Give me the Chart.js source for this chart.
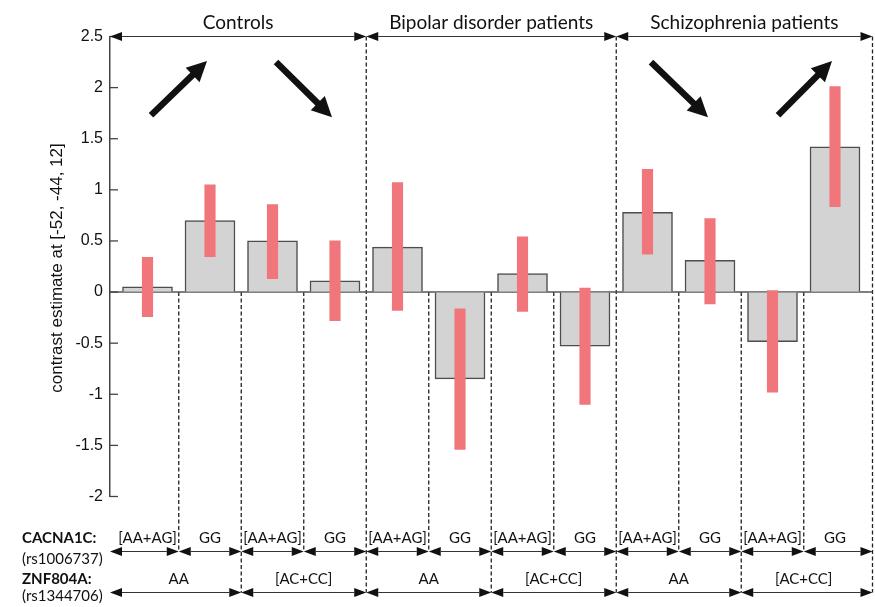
<!DOCTYPE html>
<html><head><meta charset="utf-8">
<script src="https://cdn.jsdelivr.net/npm/chart.js@4.4.0/dist/chart.umd.min.js"></script>
<style>html,body{margin:0;padding:0;background:#fff;}#wrap{width:875px;height:607px;position:relative;}</style>
</head><body><div id="wrap"><canvas id="c" width="875" height="607"></canvas></div>
<script>
// ---- data ----
const groups = ['Controls', 'Bipolar disorder patients', 'Schizophrenia patients'];
const cacna1c = ['[AA+AG]', 'GG', '[AA+AG]', 'GG', '[AA+AG]', 'GG', '[AA+AG]', 'GG', '[AA+AG]', 'GG', '[AA+AG]', 'GG'];
const znf804a = ['AA', '[AC+CC]', 'AA', '[AC+CC]', 'AA', '[AC+CC]'];
const contrast = [0.05, 0.70, 0.50, 0.11, 0.44, -0.85, 0.18, -0.53, 0.78, 0.31, -0.485, 1.42];
const ciLow  = [-0.24, 0.345, 0.13, -0.28, -0.18, -1.54, -0.19, -1.10, 0.37, -0.115, -0.98, 0.835];
const ciHigh = [0.34, 1.05, 0.855, 0.50, 1.07, -0.165, 0.54, 0.04, 1.20, 0.72, 0.015, 2.01];
const yTicks = [2.5, 2, 1.5, 1, 0.5, 0, -0.5, -1, -1.5, -2];
const yTitle = 'contrast estimate at [-52, -44, 12]';
// trend arrows in data space: [x1, y1, x2, y2]
const trendArrows = [[0.556, 1.73, 1.452, 2.26], [2.556, 2.25, 3.452, 1.71], [8.556, 2.25, 9.468, 1.71], [10.588, 1.73, 11.452, 2.26]];

const TXT = 'Lato, "Noto Sans", sans-serif';
const AX = '"Liberation Sans", Arial, sans-serif';

function tri(ctx, x, y, dir, L, H) {
  ctx.beginPath(); ctx.moveTo(x, y); ctx.lineTo(x + dir * L, y - H); ctx.lineTo(x + dir * L, y + H); ctx.closePath(); ctx.fill();
}
function dblArrow(ctx, x1, x2, y) {
  const L = 12, H = 4.6;
  ctx.save();
  ctx.strokeStyle = '#333'; ctx.fillStyle = '#111'; ctx.lineWidth = 1.2;
  ctx.beginPath(); ctx.moveTo(x1 + L, y); ctx.lineTo(x2 - L, y); ctx.stroke();
  tri(ctx, x1, y, 1, L, H); tri(ctx, x2, y, -1, L, H);
  ctx.restore();
}
function bigArrow(ctx, x1, y1, x2, y2) {
  const a = Math.atan2(y2 - y1, x2 - x1), c = Math.cos(a), s = Math.sin(a);
  const hl = 20, hw = 10;
  const bx = x2 - hl * c, by = y2 - hl * s;
  ctx.save();
  ctx.strokeStyle = '#111'; ctx.fillStyle = '#111'; ctx.lineWidth = 6.5; ctx.lineCap = 'butt';
  ctx.beginPath(); ctx.moveTo(x1, y1); ctx.lineTo(bx + 2 * c, by + 2 * s); ctx.stroke();
  ctx.beginPath(); ctx.moveTo(x2, y2); ctx.lineTo(bx - hw * s, by + hw * c); ctx.lineTo(bx + hw * s, by - hw * c); ctx.closePath(); ctx.fill();
  ctx.restore();
}

const decor = {
  id: 'decor',
  beforeDatasetsDraw(chart) {
    const ctx = chart.ctx, x = chart.scales.x, y = chart.scales.y, ca = chart.chartArea;
    const y0 = y.getPixelForValue(0);
    const b = ca.bottom;
    const row1 = b + 55, row2 = b + 96;
    ctx.save();
    ctx.strokeStyle = '#222'; ctx.lineWidth = 1.3; ctx.setLineDash([4, 2.5]);
    for (let i = 1; i <= 11; i++) {
      const px = x.getPixelForValue(i);
      let top = y0, bot = row1;
      if (i % 2 === 0) bot = row2;
      if (i % 4 === 0) top = ca.top;
      ctx.beginPath(); ctx.moveTo(px, top); ctx.lineTo(px, bot); ctx.stroke();
    }
    ctx.beginPath(); ctx.moveTo(ca.right, ca.top); ctx.lineTo(ca.right, row2); ctx.stroke();
    ctx.setLineDash([]);
    ctx.strokeStyle = '#555'; ctx.lineWidth = 1.5;
    ctx.beginPath(); ctx.moveTo(ca.left, y0); ctx.lineTo(ca.right, y0); ctx.stroke();
    ctx.restore();
  },
  afterDatasetsDraw(chart) {
    const ctx = chart.ctx, x = chart.scales.x, y = chart.scales.y, ca = chart.chartArea;
    ctx.save();
    // inward ticks
    ctx.strokeStyle = '#444'; ctx.lineWidth = 1.3;
    yTicks.forEach(v => {
      const py = y.getPixelForValue(v);
      ctx.beginPath(); ctx.moveTo(ca.left, py); ctx.lineTo(ca.left + 8, py); ctx.stroke();
    });
    // top group arrows and labels
    const gEdges = [ca.left, x.getPixelForValue(4), x.getPixelForValue(8), ca.right];
    ctx.textAlign = 'center'; ctx.textBaseline = 'middle';
    groups.forEach((g, i) => {
      dblArrow(ctx, gEdges[i], gEdges[i + 1], ca.top);
      ctx.fillStyle = '#111'; ctx.font = '19px ' + TXT; ctx.textAlign = 'center';
      ctx.fillText(g, (gEdges[i] + gEdges[i + 1]) / 2, ca.top - 14);
    });
    // trend arrows
    trendArrows.forEach(t => bigArrow(ctx, x.getPixelForValue(t[0]), y.getPixelForValue(t[1]), x.getPixelForValue(t[2]), y.getPixelForValue(t[3])));
    // bottom annotations
    const b = ca.bottom;
    const catEdge = i => (i === 0 ? ca.left : (i === 12 ? ca.right : x.getPixelForValue(i)));
    cacna1c.forEach((t, i) => {
      const l = catEdge(i), r = catEdge(i + 1);
      dblArrow(ctx, l, r, b + 55);
      ctx.fillStyle = '#111'; ctx.font = '15px ' + TXT; ctx.textAlign = 'center';
      ctx.fillText(t, x.getPixelForValue(i + 0.5), b + 41.5);
    });
    znf804a.forEach((t, k) => {
      const l = catEdge(2 * k), r = catEdge(2 * k + 2);
      dblArrow(ctx, l, r, b + 96);
      ctx.fillStyle = '#111'; ctx.font = '15px ' + TXT; ctx.textAlign = 'center';
      ctx.fillText(t, x.getPixelForValue(2 * k + 1), b + 82.5);
    });
    ctx.textAlign = 'left'; ctx.fillStyle = '#111';
    ctx.font = 'bold 15px ' + TXT; ctx.fillText('CACNA1C:', 22, b + 41.5);
    ctx.font = '15px ' + TXT; ctx.fillText('(rs1006737)', 22, b + 62.5);
    ctx.font = 'bold 15px ' + TXT; ctx.fillText('ZNF804A:', 22, b + 82.5);
    ctx.font = '15px ' + TXT; ctx.fillText('(rs1344706)', 22, b + 100);
    // y title
    ctx.save();
    ctx.translate(57, 268); ctx.rotate(-Math.PI / 2);
    ctx.font = '17px ' + AX; ctx.textAlign = 'center'; ctx.fillStyle = '#111';
    ctx.fillText(yTitle, 0, 0);
    ctx.restore();
    ctx.restore();
  }
};

new Chart(document.getElementById('c'), {
  type: 'bar',
  data: {
    datasets: [
      {
        label: 'CI', order: 0, grouped: false,
        data: contrast.map((v, i) => ({ x: i + 0.5, y: [ciLow[i], ciHigh[i]] })),
        backgroundColor: '#f0767b', borderWidth: 0, barThickness: 10.5
      },
      {
        label: 'contrast', order: 1, grouped: false,
        data: contrast.map((v, i) => ({ x: i + 0.5, y: v })),
        backgroundColor: '#d4d3d4', borderColor: '#4d4d4d', borderWidth: 1.5, barThickness: 50
      }
    ]
  },
  options: {
    responsive: false, animation: false, devicePixelRatio: 1,
    layout: { padding: { left: 0, top: 36.5, right: 2.5, bottom: 110.5 } },
    plugins: { legend: { display: false }, tooltip: { enabled: false } },
    scales: {
      x: { type: 'linear', min: -0.1, max: 12.1, offset: false, display: false, grid: { display: false } },
      y: {
        min: -2, max: 2.5,
        afterBuildTicks: s => { s.ticks = yTicks.map(v => ({ value: v })); },
        afterFit: s => { s.width = 110; },
        ticks: { callback: v => String(v), font: { family: AX, size: 16 }, color: '#111', padding: 7 },
        grid: { drawOnChartArea: false, drawTicks: false },
        border: { display: true, color: '#444', width: 1.5 }
      }
    }
  },
  plugins: [decor]
});
</script></body></html>
